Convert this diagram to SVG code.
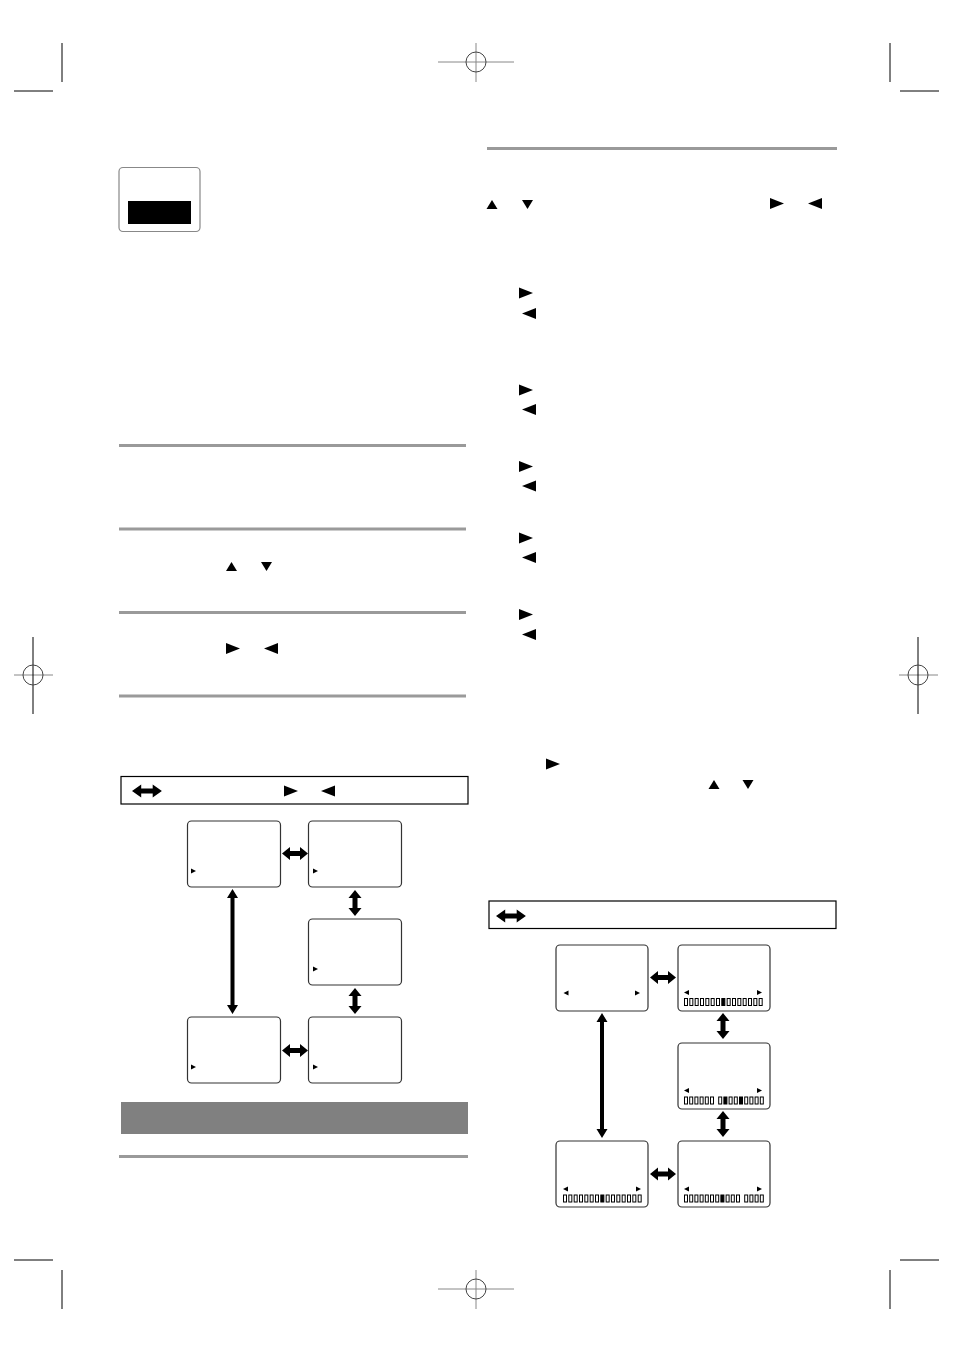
<svg xmlns="http://www.w3.org/2000/svg" width="954" height="1351" viewBox="0 0 954 1351">
<style>
.crop{stroke:#000;stroke-width:1;fill:none}
.reg{stroke:#888;stroke-width:1;fill:none}
.regc{stroke:#444;stroke-width:1;fill:none}
.rule{fill:#9a9a9a}
.scr{fill:#fff;stroke:#333;stroke-width:1.2}
.leg{fill:#fff;stroke:#000;stroke-width:1.2}
.tri{fill:#000}
.c{fill:#fff;stroke:#000;stroke-width:1}
.f{fill:#000;stroke:#000;stroke-width:1}
</style>
<defs>
<path id="hdbl" d="M0,0 L8,-6.5 L8,-2.5 L18,-2.5 L18,-6.5 L26,0 L18,6.5 L18,2.5 L8,2.5 L8,6.5 Z"/>
<path id="triR" d="M0,-5.5 L14,0 L0,5.5 Z"/>
<path id="triL" d="M14,-5.5 L0,0 L14,5.5 Z"/>
<path id="triU" d="M-5.5,4.5 L0,-4.5 L5.5,4.5 Z"/>
<path id="triD" d="M-5.5,-4.5 L0,4.5 L5.5,-4.5 Z"/>
<path id="sR" d="M0,-2.5 L5,0 L0,2.5 Z"/>
<path id="sL" d="M5,-2.5 L0,0 L5,2.5 Z"/>
<rect id="ce" class="c" x="0.5" y="0.5" width="3" height="7"/>
<rect id="cf" class="f" x="0.5" y="0.5" width="3" height="7"/>
<g id="bar15">
<use href="#ce" x="0"/><use href="#ce" x="5.33"/><use href="#ce" x="10.67"/><use href="#ce" x="16"/><use href="#ce" x="21.33"/><use href="#ce" x="26.67"/><use href="#ce" x="32"/><use href="#cf" x="37.33"/><use href="#ce" x="42.67"/><use href="#ce" x="48"/><use href="#ce" x="53.33"/><use href="#ce" x="58.67"/><use href="#ce" x="64"/><use href="#ce" x="69.33"/><use href="#ce" x="74.67"/>
</g>
</defs>

<g id="printmarks">
<line class="crop" x1="62" y1="43" x2="62" y2="82"/>
<line class="crop" x1="14" y1="91" x2="53" y2="91"/>
<line class="crop" x1="890" y1="43" x2="890" y2="82"/>
<line class="crop" x1="900" y1="91" x2="939" y2="91"/>
<line class="crop" x1="14" y1="1260" x2="53" y2="1260"/>
<line class="crop" x1="62" y1="1270" x2="62" y2="1309"/>
<line class="crop" x1="900" y1="1260" x2="939" y2="1260"/>
<line class="crop" x1="890" y1="1270" x2="890" y2="1309"/>
<line class="reg" x1="438" y1="62" x2="514" y2="62"/>
<line class="reg" x1="476" y1="43" x2="476" y2="82"/>
<circle class="regc" cx="476" cy="62" r="10"/>
<line class="reg" x1="438" y1="1289" x2="514" y2="1289"/>
<line class="reg" x1="476" y1="1270" x2="476" y2="1309"/>
<circle class="regc" cx="476" cy="1289" r="10"/>
<line class="reg" x1="14" y1="675" x2="53" y2="675"/>
<line class="crop" x1="33" y1="637" x2="33" y2="714"/>
<circle class="regc" cx="33" cy="675" r="10"/>
<line class="reg" x1="899" y1="675" x2="938" y2="675"/>
<line class="crop" x1="918" y1="637" x2="918" y2="714"/>
<circle class="regc" cx="918" cy="675" r="10"/>
</g>

<g id="icon">
<rect x="119" y="167.5" width="81" height="64" rx="4" fill="#fff" stroke="#888" stroke-width="1.2"/>
<rect x="128" y="201" width="63" height="23" fill="#000"/>
</g>

<g id="rules">
<rect class="rule" x="487" y="147" width="350" height="3"/>
<rect class="rule" x="119" y="444" width="347" height="3"/>
<rect class="rule" x="119" y="527.5" width="347" height="3"/>
<rect class="rule" x="119" y="611" width="347" height="3"/>
<rect class="rule" x="119" y="694.5" width="347" height="3"/>
<rect x="121" y="1102" width="347" height="32" fill="#808080"/>
<rect class="rule" x="119" y="1155" width="349" height="3"/>
</g>

<g id="symbols" class="tri">
<use href="#triU" x="492" y="204.5"/>
<use href="#triD" x="527.5" y="204.5"/>
<use href="#triR" x="770" y="203.5"/>
<use href="#triL" x="808" y="203.5"/>
<use href="#triR" x="519" y="293"/>
<use href="#triL" x="522" y="313.5"/>
<use href="#triR" x="519" y="390"/>
<use href="#triL" x="522" y="409.5"/>
<use href="#triR" x="519" y="466.5"/>
<use href="#triL" x="522" y="486"/>
<use href="#triR" x="519" y="538"/>
<use href="#triL" x="522" y="557.5"/>
<use href="#triR" x="519" y="614.5"/>
<use href="#triL" x="522" y="634.5"/>
<use href="#triR" x="546" y="764"/>
<use href="#triU" x="714" y="784.5"/>
<use href="#triD" x="748" y="784.5"/>
<use href="#triU" x="231.5" y="566.5"/>
<use href="#triD" x="266.5" y="566.5"/>
<use href="#triR" x="226" y="648.5"/>
<use href="#triL" x="264" y="648.5"/>
</g>

<g id="legend1">
<rect class="leg" x="121" y="776.5" width="347" height="27.5"/>
<use href="#hdbl" transform="translate(132 791) scale(1.15 1)"/>
<use href="#triR" x="284" y="791"/>
<use href="#triL" x="321" y="791"/>
</g>

<g id="screenL1"><rect class="scr" x="187.5" y="821" width="93" height="66" rx="4"/><use href="#sR" x="191" y="871"/></g>
<g id="screenL2"><rect class="scr" x="308.5" y="821" width="93" height="66" rx="4"/><use href="#sR" x="313" y="871"/></g>
<g id="screenL3"><rect class="scr" x="308.5" y="919" width="93" height="66" rx="4"/><use href="#sR" x="313" y="969"/></g>
<g id="screenL4"><rect class="scr" x="187.5" y="1017" width="93" height="66" rx="4"/><use href="#sR" x="191" y="1067"/></g>
<g id="screenL5"><rect class="scr" x="308.5" y="1017" width="93" height="66" rx="4"/><use href="#sR" x="313" y="1067"/></g>

<g id="legend2">
<rect class="leg" x="489" y="901" width="347" height="27.5"/>
<use href="#hdbl" transform="translate(496 916) scale(1.15 1)"/>
</g>

<g id="screenR1"><rect class="scr" x="556" y="945" width="92" height="66" rx="4"/><use href="#sL" x="563.5" y="993"/><use href="#sR" x="635" y="993"/></g>
<g id="screenR2"><rect class="scr" x="678" y="945" width="92" height="66" rx="4"/><use href="#sL" x="684" y="992.5"/><use href="#sR" x="757" y="992.5"/>
<use href="#bar15" x="684" y="998"/></g>
<g id="screenR3"><rect class="scr" x="678" y="1043" width="92" height="66" rx="4"/><use href="#sL" x="684" y="1090.5"/><use href="#sR" x="757" y="1090.5"/>
<g transform="translate(684 1096.5)">
<use href="#ce" x="0"/><use href="#ce" x="5.2"/><use href="#ce" x="10.4"/><use href="#ce" x="15.6"/><use href="#ce" x="20.8"/><use href="#ce" x="26"/><use href="#ce" x="34.2"/><use href="#cf" x="39.4"/><use href="#ce" x="44.6"/><use href="#ce" x="49.8"/><use href="#cf" x="55"/><use href="#ce" x="60.2"/><use href="#ce" x="65.4"/><use href="#ce" x="70.6"/><use href="#ce" x="75.8"/>
</g></g>
<g id="screenR4"><rect class="scr" x="556" y="1141" width="92" height="66" rx="4"/><use href="#sL" x="563" y="1189"/><use href="#sR" x="636" y="1189"/>
<use href="#bar15" x="563" y="1194.5"/></g>
<g id="screenR5"><rect class="scr" x="678" y="1141" width="92" height="66" rx="4"/><use href="#sL" x="684" y="1189"/><use href="#sR" x="757" y="1189"/>
<g transform="translate(684 1194.5)">
<use href="#ce" x="0"/><use href="#ce" x="5.2"/><use href="#ce" x="10.4"/><use href="#ce" x="15.6"/><use href="#ce" x="20.8"/><use href="#ce" x="26"/><use href="#ce" x="31.2"/><use href="#cf" x="36.4"/><use href="#ce" x="41.6"/><use href="#ce" x="46.8"/><use href="#ce" x="52"/><use href="#ce" x="60.2"/><use href="#ce" x="65.4"/><use href="#ce" x="70.6"/><use href="#ce" x="75.8"/>
</g></g>

<g id="connectors" fill="#000">
<use href="#hdbl" x="282" y="853.5"/>
<use href="#hdbl" x="282" y="1050.5"/>
<use href="#hdbl" x="650" y="977.5"/>
<use href="#hdbl" x="650" y="1174"/>
<use href="#hdbl" transform="translate(355 890) rotate(90)"/>
<use href="#hdbl" transform="translate(355 988) rotate(90)"/>
<use href="#hdbl" transform="translate(723 1013) rotate(90)"/>
<use href="#hdbl" transform="translate(723 1111) rotate(90)"/>
<path d="M232.5,889 L238,898 L234.5,898 L234.5,1005 L238,1005 L232.5,1014 L227,1005 L230.5,1005 L230.5,898 L227,898 Z"/>
<path d="M602,1013 L607.5,1022 L604,1022 L604,1129 L607.5,1129 L602,1138 L596.5,1129 L600,1129 L600,1022 L596.5,1022 Z"/>
</g>
</svg>
